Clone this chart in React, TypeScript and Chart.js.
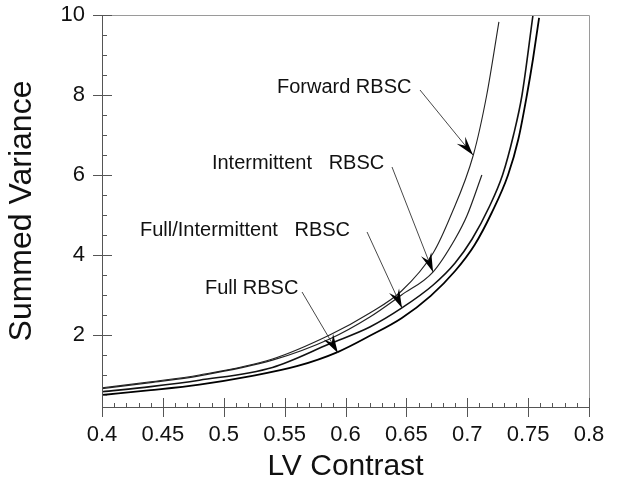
import React, { useEffect, useRef } from "react";
import { Chart, registerables } from "chart.js";

Chart.register(...registerables);

// ---- Data ----
const forwardContrast = [0.4, 0.44, 0.48, 0.54, 0.587, 0.62, 0.646, 0.672, 0.686, 0.705, 0.716, 0.726];
const forwardVariance = [0.68, 0.83, 1.0, 1.4, 2.0, 2.55, 3.1, 4.05, 4.95, 6.5, 8.0, 9.83];

const intermittentContrast = [0.4, 0.44, 0.48, 0.54, 0.587, 0.62, 0.646, 0.672, 0.69, 0.7, 0.712];
const intermittentVariance = [0.66, 0.81, 0.98, 1.37, 1.9, 2.45, 3.0, 3.58, 4.4, 5.0, 6.0];

const fullIntContrast = [0.4, 0.44, 0.48, 0.54, 0.587, 0.62, 0.646, 0.672, 0.69, 0.704, 0.718, 0.729, 0.738, 0.745, 0.754];
const fullIntVariance = [0.58, 0.71, 0.87, 1.19, 1.78, 2.2, 2.67, 3.25, 3.8, 4.4, 5.2, 6.0, 7.0, 8.0, 10.0];

const fullContrast = [0.4, 0.44, 0.48, 0.52, 0.56, 0.594, 0.62, 0.646, 0.67, 0.69, 0.706, 0.72, 0.7335, 0.742, 0.749, 0.754, 0.759];
const fullVariance = [0.5, 0.62, 0.76, 0.96, 1.22, 1.58, 1.98, 2.42, 2.98, 3.6, 4.25, 5.05, 6.0, 6.9, 8.0, 8.9, 9.93];

const xTickValues = [0.4, 0.45, 0.5, 0.55, 0.6, 0.65, 0.7, 0.75, 0.8];
const xTickLabels = ["0.4", "0.45", "0.5", "0.55", "0.6", "0.65", "0.7", "0.75", "0.8"];
const yTickValues = [2, 4, 6, 8, 10];
const yTickLabels = ["2", "4", "6", "8", "10"];

// Annotations (data coordinates)
const annotationTexts = ["Forward RBSC", "Intermittent   RBSC", "Full/Intermittent   RBSC", "Full RBSC"];
const annotationTextX = [0.5437, 0.4903, 0.4312, 0.4846];
const annotationTextY = [8.2, 6.3, 4.625, 3.175];
const leaderStartX = [0.6612, 0.6382, 0.6177, 0.5643];
const leaderStartY = [8.125, 6.2, 4.575, 3.075];
const arrowTipX = [0.7047, 0.6719, 0.6464, 0.5938];
const arrowTipY = [6.5, 3.575, 2.675, 1.55];

const FONT = "'Liberation Sans', Arial, Helvetica, sans-serif";

function zip(xs: number[], ys: number[]) {
  return xs.map((x, i) => ({ x, y: ys[i] }));
}

const framePlugin = {
  id: "framePlugin",
  afterDraw(chart: any) {
    const ctx = chart.ctx as CanvasRenderingContext2D;
    const { left, right, top, bottom } = chart.chartArea;
    const xs = chart.scales.x;
    const ys = chart.scales.y;
    ctx.save();
    // top & right frame (light)
    ctx.strokeStyle = "#9a9a9a";
    ctx.lineWidth = 1;
    ctx.beginPath();
    ctx.moveTo(left, top + 0.5);
    ctx.lineTo(right + 0.5, top + 0.5);
    ctx.lineTo(right + 0.5, bottom);
    ctx.stroke();
    // left & bottom axes
    ctx.strokeStyle = "#555";
    ctx.beginPath();
    ctx.moveTo(left + 0.5, top);
    ctx.lineTo(left + 0.5, bottom + 0.5);
    ctx.lineTo(right + 0.5, bottom + 0.5);
    ctx.stroke();
    // x ticks
    ctx.beginPath();
    for (let i = 0; i <= 40; i++) {
      const v = 0.4 + i * 0.01;
      const px = Math.round(xs.getPixelForValue(v)) + 0.5;
      if (i % 5 === 0) {
        ctx.moveTo(px, bottom - 9);
        ctx.lineTo(px, bottom + 10);
      } else {
        ctx.moveTo(px, bottom - 4);
        ctx.lineTo(px, bottom);
      }
    }
    // y ticks
    for (let i = 1; i <= 20; i++) {
      const v = i * 0.5;
      const py = Math.round(ys.getPixelForValue(v)) + 0.5;
      if (i % 4 === 0) {
        ctx.moveTo(left - 9, py);
        ctx.lineTo(left + 10, py);
      } else {
        ctx.moveTo(left, py);
        ctx.lineTo(left + 5, py);
      }
    }
    ctx.stroke();

    // annotations
    ctx.font = `20px ${FONT}`;
    ctx.textBaseline = "middle";
    ctx.textAlign = "left";
    for (let i = 0; i < annotationTexts.length; i++) {
      const tx = xs.getPixelForValue(annotationTextX[i]);
      const ty = ys.getPixelForValue(annotationTextY[i]);
      ctx.fillStyle = "#111";
      ctx.fillText(annotationTexts[i], tx, ty);
      const sx = xs.getPixelForValue(leaderStartX[i]);
      const sy = ys.getPixelForValue(leaderStartY[i]);
      const ex = xs.getPixelForValue(arrowTipX[i]);
      const ey = ys.getPixelForValue(arrowTipY[i]);
      ctx.strokeStyle = "#333";
      ctx.lineWidth = 0.9;
      ctx.beginPath();
      ctx.moveTo(sx, sy);
      ctx.lineTo(ex, ey);
      ctx.stroke();
      // arrowhead
      const dx = ex - sx, dy = ey - sy;
      const len = Math.hypot(dx, dy);
      const ux = dx / len, uy = dy / len;
      const nx = -uy, ny = ux;
      const L = 19, W = 5.5, N = 12;
      ctx.fillStyle = "#000";
      ctx.beginPath();
      ctx.moveTo(ex, ey);
      ctx.lineTo(ex - ux * L + nx * W, ey - uy * L + ny * W);
      ctx.lineTo(ex - ux * N, ey - uy * N);
      ctx.lineTo(ex - ux * L - nx * W, ey - uy * L - ny * W);
      ctx.closePath();
      ctx.fill();
    }
    ctx.restore();
  },
};

export default function App() {
  const ref = useRef<HTMLCanvasElement | null>(null);
  useEffect(() => {
    if (!ref.current) return;
    const mk = (label: string, xs: number[], ys: number[], w: number, color: string) => ({
      label,
      data: zip(xs, ys),
      borderColor: color,
      borderWidth: w,
      pointRadius: 0,
      fill: false,
      cubicInterpolationMode: "monotone" as const,
    });
    const chart = new Chart(ref.current, {
      type: "line",
      data: {
        datasets: [
          mk("Forward RBSC", forwardContrast, forwardVariance, 1.1, "#222"),
          mk("Intermittent RBSC", intermittentContrast, intermittentVariance, 1.2, "#222"),
          mk("Full/Intermittent RBSC", fullIntContrast, fullIntVariance, 1.6, "#111"),
          mk("Full RBSC", fullContrast, fullVariance, 1.8, "#000"),
        ],
      },
      options: {
        animation: false,
        responsive: true,
        maintainAspectRatio: false,
        devicePixelRatio: 1,
        layout: { padding: { top: 15, right: 35, left: 0, bottom: 0 } },
        plugins: { legend: { display: false }, tooltip: { enabled: false } },
        scales: {
          x: {
            type: "linear",
            min: 0.4,
            max: 0.8,
            afterFit: (s: any) => { s.height = 80; s.paddingLeft = 0; s.paddingRight = 0; },
            afterBuildTicks: (s: any) => { s.ticks = xTickValues.map((v) => ({ value: v })); },
            grid: { display: false, drawTicks: false },
            border: { display: false },
            ticks: {
              color: "#111",
              font: { size: 22, family: FONT },
              padding: 15,
              maxRotation: 0,
              autoSkip: false,
              callback: (_v: any, i: number) => xTickLabels[i],
            },
            title: {
              display: true,
              text: "LV Contrast",
              color: "#111",
              font: { size: 30, family: FONT },
              padding: { top: 0, bottom: 2 },
            },
          },
          y: {
            type: "linear",
            min: 0.2,
            max: 10,
            afterFit: (s: any) => { s.width = 102; s.paddingTop = 0; s.paddingBottom = 0; },
            afterBuildTicks: (s: any) => { s.ticks = yTickValues.map((v) => ({ value: v })); },
            grid: { display: false, drawTicks: false },
            border: { display: false },
            ticks: {
              color: "#111",
              font: { size: 22, family: FONT },
              padding: 17,
              autoSkip: false,
              callback: (_v: any, i: number) => yTickLabels[i],
            },
            title: {
              display: true,
              text: "Summed Variance",
              color: "#111",
              font: { size: 32, family: FONT },
              padding: { top: 3, bottom: 0 },
            },
          },
        },
      },
      plugins: [framePlugin],
    });
    return () => chart.destroy();
  }, []);
  return (
    <div style={{ position: "fixed", left: 0, top: 0, width: 624, height: 487, background: "#fff" }}>
      <canvas ref={ref} />
    </div>
  );
}
